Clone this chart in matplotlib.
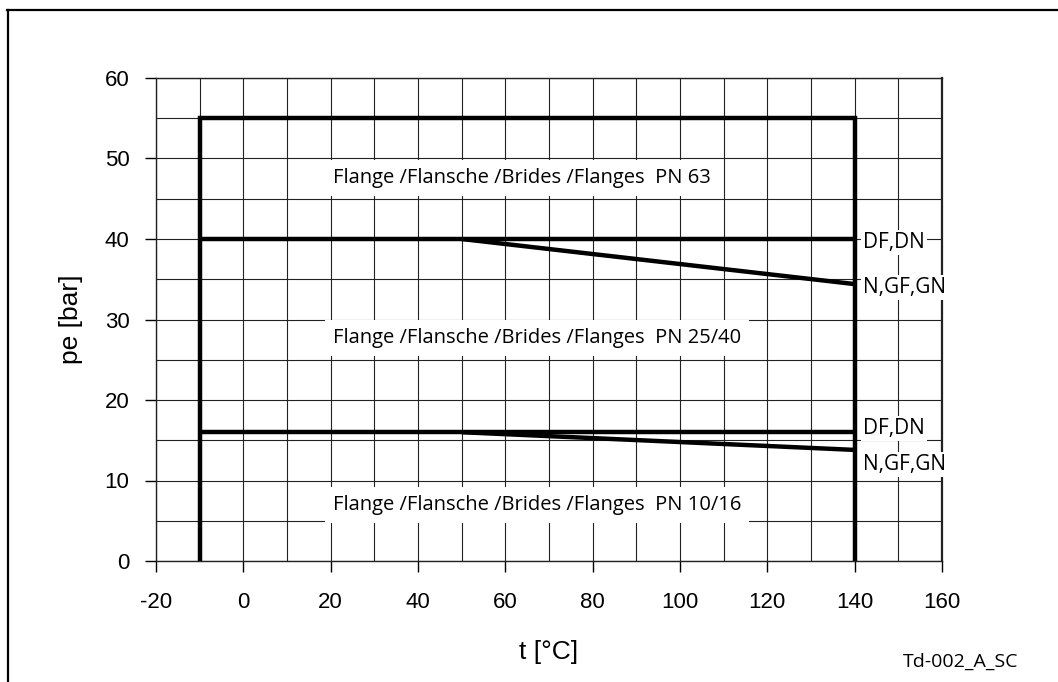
import matplotlib
matplotlib.use('Agg')
import matplotlib.pyplot as plt
from matplotlib.ticker import MultipleLocator
from matplotlib.lines import Line2D

plt.rcParams['axes.unicode_minus'] = False

# pressure / temperature limits (t in degC, pe in bar)
frame_t = [-10, -10, 140, 140]
frame_p = [0, 55, 55, 0]
pn40_df_t = [-10, 140]
pn40_df_p = [40, 40]
pn40_n_t = [50, 140]
pn40_n_p = [40, 34.4]
pn16_df_t = [-10, 140]
pn16_df_p = [16, 16]
pn16_n_t = [50, 140]
pn16_n_p = [16, 13.8]

region_labels = ['Flange /Flansche /Brides /Flanges  PN 63',
                 'Flange /Flansche /Brides /Flanges  PN 25/40',
                 'Flange /Flansche /Brides /Flanges  PN 10/16']
region_t = [20.5, 20.5, 20.5]
region_p = [47.6, 27.7, 7.0]

end_labels = ['DF,DN', 'N,GF,GN', 'DF,DN', 'N,GF,GN']
end_p = [39.6, 34.0, 16.5, 12.0]

xticks = [-20, 0, 20, 40, 60, 80, 100, 120, 140, 160]
yticks = [0, 10, 20, 30, 40, 50, 60]

W, H = 1058, 682
fig = plt.figure(figsize=(W / 100, H / 100), dpi=100)
ax = fig.add_axes([156 / W, 1 - 561 / H, (942 - 156) / W, (561 - 78) / H])

# outer frame (left and top edges visible)
fig.add_artist(Line2D([7.5 / W, 7.5 / W], [0, 1 - 10 / H], color='black', lw=1.6,
                      transform=fig.transFigure))
fig.add_artist(Line2D([7 / W, 1], [1 - 10 / H, 1 - 10 / H], color='black', lw=1.6,
                      transform=fig.transFigure))

ax.set_xlim(-20, 160)
ax.set_ylim(0, 60)
ax.set_xticks(xticks)
ax.set_yticks(yticks)
ax.xaxis.set_minor_locator(MultipleLocator(10))
ax.yaxis.set_minor_locator(MultipleLocator(5))
ax.grid(True, which='both', color='#222222', lw=0.8)
ax.set_axisbelow(True)
ax.tick_params(which='major', direction='out', length=8, width=1, labelsize=16)
ax.tick_params(axis='x', which='major', pad=14)
ax.tick_params(axis='y', which='major', pad=11)
ax.tick_params(which='minor', length=0)
for lab in ax.get_xticklabels() + ax.get_yticklabels():
    lab.set_family('Liberation Sans')
for s in ax.spines.values():
    s.set_color('#222222')
    s.set_linewidth(1.0)
ax.spines['right'].set_linewidth(1.6)

lw = 3.2
ax.plot(frame_t, frame_p, color='black', lw=lw, solid_joinstyle='miter', zorder=3)
for t, p in [(pn40_df_t, pn40_df_p), (pn40_n_t, pn40_n_p),
             (pn16_df_t, pn16_df_p), (pn16_n_t, pn16_n_p)]:
    ax.plot(t, p, color='black', lw=lw, solid_capstyle='butt', zorder=3)

box = dict(boxstyle='square,pad=0.4', facecolor='white', edgecolor='none')
for txt, t, p in zip(region_labels, region_t, region_p):
    ax.text(t, p, txt, family='Open Sans', fontsize=14.5, va='center', ha='left',
            bbox=box, zorder=4)
for txt, p in zip(end_labels, end_p):
    ax.text(142, p, txt, family='Open Sans', fontsize=15, va='center', ha='left',
            bbox=dict(boxstyle='square,pad=0.1', facecolor='white', edgecolor='none'),
            zorder=4)

ax.set_xlabel('t [°C]', family='Liberation Sans', fontsize=19, labelpad=20)
ax.set_ylabel('pe [bar]', family='Liberation Sans', fontsize=19, labelpad=16)

fig.text(903 / W, 1 - 662 / H, 'Td-002_A_SC', family='Open Sans', fontsize=14,
         ha='left', va='center')

fig.savefig('out.png', dpi=100)
